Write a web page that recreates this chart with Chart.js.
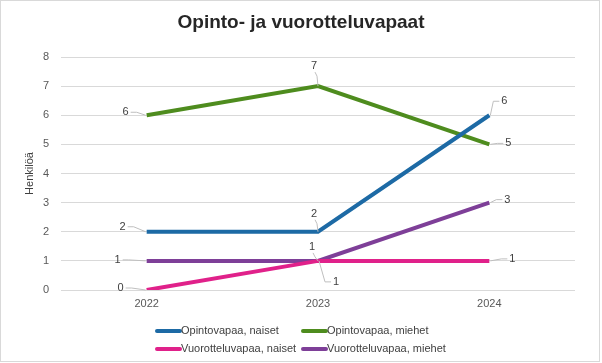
<!DOCTYPE html>
<html>
<head>
<meta charset="utf-8">
<script src="https://cdn.jsdelivr.net/npm/chart.js@4"></script>
<style>
  html, body { margin: 0; padding: 0; background: #fff; }
  #wrap { position: relative; width: 602px; height: 363px; }
  #frame { position: absolute; left: 0; top: 0; width: 598px; height: 360px; border: 1px solid #d9d9d9; pointer-events: none; }
</style>
</head>
<body>
<div id="wrap">
  <canvas id="chart" width="602" height="363"></canvas>
  <div id="frame"></div>
</div>
<script>
// data
var years = ["2022", "2023", "2024"];
var seriesNames = ["Opintovapaa, naiset", "Opintovapaa, miehet", "Vuorotteluvapaa, naiset", "Vuorotteluvapaa, miehet"];
var opintoNaiset = [2, 2, 6];
var opintoMiehet = [6, 7, 5];
var vuoroNaiset = [0, 1, 1];
var vuoroMiehet = [1, 1, 3];
var colors = ["#1d6aa5", "#4e8c1e", "#e0218a", "#7e3f98"];
var chartTitle = "Opinto- ja vuorotteluvapaat";

// label offsets (text centre relative to point), per series / per year
var labelOffsets = [
    [[-24, -5], [-4, -18], [15, -14]],
    [[-21, -3], [-4, -20], [19, -1]],
    [[-26, -2], [18, 21], [23, -2]],
    [[-29, -1], [-6, -14], [18, -3]]
];

var FONT = "'Liberation Sans', Arial, sans-serif";

// title centred on the whole canvas (built-in one ignores the right padding)
var pageTitle = {
    id: "pageTitle",
    afterDraw: function(chart) {
        var ctx = chart.ctx;
        ctx.save();
        ctx.font = "bold 19px " + FONT;
        ctx.fillStyle = "#262626";
        ctx.textAlign = "center";
        ctx.textBaseline = "middle";
        ctx.fillText(chartTitle, chart.width / 2, 23);
        ctx.restore();
    }
};

var dataLabels = {
    id: "dataLabels",
    afterDatasetsDraw: function(chart) {
        var ctx = chart.ctx;
        ctx.save();
        ctx.font = "11px " + FONT;
        ctx.textAlign = "center";
        ctx.textBaseline = "middle";
        chart.data.datasets.forEach(function(ds, i) {
            var meta = chart.getDatasetMeta(i);
            meta.data.forEach(function(pt, j) {
                var off = labelOffsets[i][j];
                var tx = pt.x + off[0], ty = pt.y + off[1];
                ctx.strokeStyle = "#bfbfbf";
                ctx.lineWidth = 1;
                ctx.beginPath();
                if (Math.abs(off[0]) > 10) {
                    var s = off[0] < 0 ? 1 : -1;
                    ctx.moveTo(tx + s * 5, ty);
                    ctx.lineTo(tx + s * 11, ty);
                    ctx.lineTo(pt.x - s * 1, pt.y);
                } else {
                    ctx.moveTo(tx + 1, ty + 6);
                    ctx.lineTo(tx + 3, ty + 10);
                    ctx.lineTo(pt.x, pt.y);
                }
                ctx.stroke();
                ctx.fillStyle = "#404040";
                ctx.fillText(String(ds.data[j]), tx, ty);
            });
        });
        ctx.restore();
    }
};

var gridLegend = {
    id: "gridLegend",
    afterDraw: function(chart) {
        var ctx = chart.ctx;
        var cols = [157, 303];
        var rows = [331, 349];
        ctx.save();
        ctx.font = "11px " + FONT;
        ctx.textAlign = "left";
        ctx.textBaseline = "middle";
        chart.data.datasets.forEach(function(ds, i) {
            var x = cols[i % 2], y = rows[Math.floor(i / 2)];
            ctx.strokeStyle = ds.borderColor;
            ctx.lineWidth = 4;
            ctx.lineCap = "round";
            ctx.beginPath();
            ctx.moveTo(x, y);
            ctx.lineTo(x + 23, y);
            ctx.stroke();
            ctx.fillStyle = "#404040";
            ctx.fillText(ds.label, x + 24, y);
        });
        ctx.restore();
    }
};

var allSeries = [opintoNaiset, opintoMiehet, vuoroNaiset, vuoroMiehet];

new Chart(document.getElementById("chart"), {
    type: "line",
    data: {
        labels: years,
        datasets: allSeries.map(function(vals, i) {
            return {
                label: seriesNames[i],
                data: vals,
                borderColor: colors[i],
                backgroundColor: colors[i],
                borderWidth: 4,
                pointRadius: 0,
                tension: 0
            };
        })
    },
    options: {
        responsive: false,
        animation: false,
        layout: { padding: { left: 0, right: 27, top: 57, bottom: 0 } },
        plugins: {
            legend: { display: false },
            tooltip: { enabled: false },
            title: { display: false }
        },
        scales: {
            x: {
                offset: true,
                grid: { display: false, drawTicks: false },
                border: { display: false },
                ticks: { color: "#595959", font: { family: FONT, size: 11 }, padding: 7 },
                afterFit: function(scale) { scale.height = 73; }
            },
            y: {
                min: 0,
                max: 8,
                ticks: { stepSize: 1, color: "#595959", font: { family: FONT, size: 11 }, padding: 12 },
                grid: { color: "#d9d9d9", drawTicks: false },
                border: { display: false },
                title: {
                    display: true,
                    text: "Henkilöä",
                    color: "#404040",
                    font: { family: FONT, size: 11 },
                    padding: { top: 23, bottom: 0 }
                },
                afterFit: function(scale) { scale.width = 61; }
            }
        }
    },
    plugins: [pageTitle, dataLabels, gridLegend]
});
</script>
</body>
</html>
